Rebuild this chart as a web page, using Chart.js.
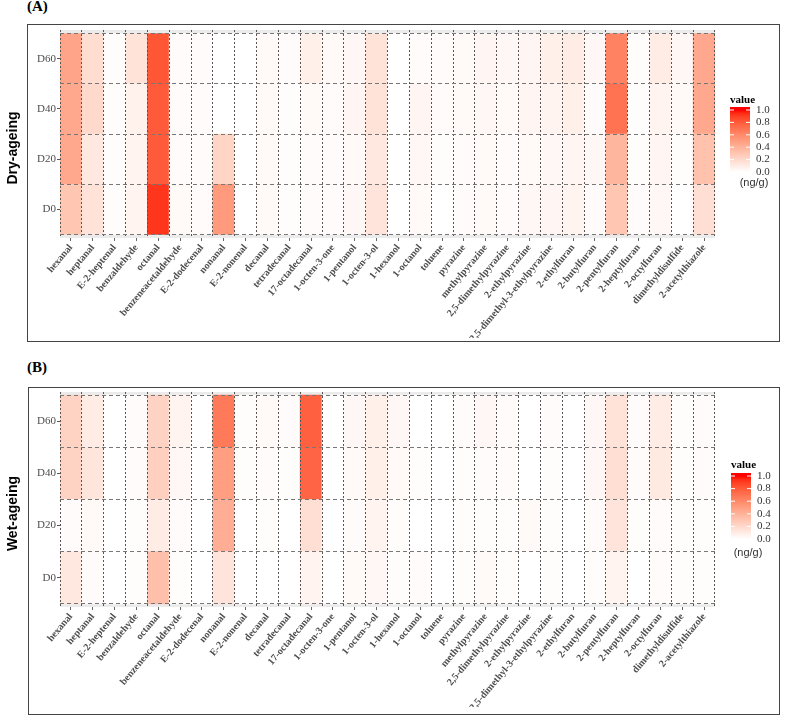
<!DOCTYPE html>
<html>
<head>
<meta charset="utf-8">
<script src="https://cdn.jsdelivr.net/npm/chart.js@4.4.0/dist/chart.umd.min.js"></script>
<style>
  body { margin: 0; background: #fff; }
  #page { position: relative; width: 785px; height: 716px; overflow: hidden; }
  .frame { position: absolute; border: 1.5px solid #444; box-sizing: border-box; }
  .tag { position: absolute; font: bold 15px "Liberation Serif", serif; color: #000; }
  canvas { position: absolute; left: 0; }
</style>
</head>
<body>
<div id="page">
  <div class="tag" style="left:27px; top:-2px;">(A)</div>
  <div class="frame" style="left:27px; top:24px; width:753px; height:318px;"></div>
  <div class="tag" style="left:27px; top:359px;">(B)</div>
  <div class="frame" style="left:28px; top:387px; width:752px; height:328px;"></div>
  <canvas id="dryChart" width="785" height="345" style="top:0px;"></canvas>
  <canvas id="wetChart" width="785" height="356" style="top:360px;"></canvas>
</div>
<script>
var compounds = ["hexanal", "heptanal", "E-2-heptenal", "benzaldehyde", "octanal",
  "benzeneacetaldehyde", "E-2-dodecenal", "nonanal", "E-2-nonenal", "decanal",
  "tetradecanal", "17-octadecanal", "1-octen-3-one", "1-pentanol", "1-octen-3-ol",
  "1-hexanol", "1-octanol", "toluene", "pyrazine", "methylpyrazine",
  "2,5-dimethylpyrazine", "2-ethylpyrazine", "2,5-dimethyl-3-ethylpyrazine", "2-ethylfuran", "2-butylfuran",
  "2-pentylfuran", "2-heptylfuran", "2-octylfuran", "dimethyldisulfide", "2-acetylthiazole"];
var days = ["D0", "D20", "D40", "D60"];
var legendTicks = [0, 0.2, 0.4, 0.6, 0.8, 1.0];

// dry-ageing, scaled value per compound
var dryD0  = [0.30, 0.15, 0.01, 0.06, 0.92, 0.03, 0.02, 0.52, 0.00, 0.03, 0.01, 0.02, 0.02, 0.04, 0.14,
              0.00, 0.03, 0.00, 0.02, 0.03, 0.02, 0.04, 0.05, 0.06, 0.02, 0.30, 0.02, 0.04, 0.00, 0.17];
var dryD20 = [0.45, 0.12, 0.01, 0.06, 0.80, 0.02, 0.02, 0.22, 0.00, 0.03, 0.01, 0.02, 0.02, 0.03, 0.12,
              0.00, 0.04, 0.01, 0.02, 0.03, 0.02, 0.03, 0.04, 0.05, 0.04, 0.38, 0.01, 0.05, 0.01, 0.32];
var dryD40 = [0.45, 0.20, 0.01, 0.07, 0.80, 0.02, 0.02, 0.00, 0.00, 0.03, 0.01, 0.03, 0.02, 0.05, 0.15,
              0.00, 0.05, 0.02, 0.03, 0.04, 0.03, 0.05, 0.06, 0.08, 0.02, 0.70, 0.01, 0.06, 0.03, 0.45];
var dryD60 = [0.47, 0.18, 0.01, 0.15, 0.82, 0.02, 0.02, 0.00, 0.00, 0.03, 0.02, 0.08, 0.03, 0.04, 0.15,
              0.00, 0.02, 0.02, 0.03, 0.05, 0.04, 0.05, 0.08, 0.10, 0.04, 0.63, 0.01, 0.10, 0.04, 0.45];

// wet-ageing
var wetD0  = [0.12, 0.02, 0.00, 0.01, 0.33, 0.01, 0.00, 0.14, 0.00, 0.00, 0.00, 0.06, 0.00, 0.03, 0.04,
              0.01, 0.02, 0.00, 0.01, 0.03, 0.01, 0.00, 0.01, 0.00, 0.01, 0.06, 0.00, 0.02, 0.01, 0.01];
var wetD20 = [0.02, 0.03, 0.00, 0.01, 0.10, 0.02, 0.00, 0.42, 0.00, 0.01, 0.00, 0.17, 0.00, 0.02, 0.06,
              0.01, 0.00, 0.00, 0.01, 0.01, 0.01, 0.03, 0.01, 0.00, 0.02, 0.14, 0.01, 0.02, 0.01, 0.01];
var wetD40 = [0.23, 0.13, 0.00, 0.02, 0.25, 0.04, 0.00, 0.50, 0.01, 0.02, 0.01, 0.76, 0.00, 0.03, 0.08,
              0.03, 0.01, 0.00, 0.01, 0.02, 0.02, 0.00, 0.01, 0.00, 0.04, 0.17, 0.02, 0.11, 0.01, 0.02];
var wetD60 = [0.23, 0.10, 0.00, 0.02, 0.23, 0.06, 0.00, 0.67, 0.01, 0.03, 0.02, 0.78, 0.00, 0.04, 0.08,
              0.04, 0.00, 0.00, 0.02, 0.04, 0.02, 0.00, 0.02, 0.00, 0.04, 0.15, 0.02, 0.10, 0.01, 0.02];

// white -> red, blended in Lab like ggplot does
function heatColor(v) {
  var L = 100 + (53.24 - 100) * v, A = 80.09 * v, B = 67.2 * v;
  var fy = (L + 16) / 116, fx = fy + A / 500, fz = fy - B / 200;
  function finv(t) { return t * t * t > 0.008856 ? t * t * t : (t - 16 / 116) / 7.787; }
  var X = 0.95047 * finv(fx), Y = finv(fy), Z = 1.08883 * finv(fz);
  var rgb = [3.2406 * X - 1.5372 * Y - 0.4986 * Z,
             -0.9689 * X + 1.8758 * Y + 0.0415 * Z,
             0.0557 * X - 0.2040 * Y + 1.0570 * Z];
  rgb = rgb.map(function (c) {
    c = c <= 0.0031308 ? 12.92 * c : 1.055 * Math.pow(c, 1 / 2.4) - 0.055;
    return Math.round(Math.min(1, Math.max(0, c)) * 255);
  });
  return "rgb(" + rgb.join(",") + ")";
}

function heatmap(id, title, rows, lay) {
  var ctx = document.getElementById(id).getContext("2d");

  var extras = {
    id: "extras",
    beforeDatasetsDraw: function (chart) {
      var c = chart.ctx, a = chart.chartArea, y = chart.scales.y;
      c.save();
      c.fillStyle = "#EBEBEB";
      c.fillRect(a.left, a.top, a.right - a.left, a.bottom - a.top);
      c.fillStyle = "#fff";
      c.fillRect(a.left, y.getPixelForValue(4), a.right - a.left, y.getPixelForValue(0) - y.getPixelForValue(4));
      c.restore();
    },
    afterDraw: function (chart) {
      var c = chart.ctx, a = chart.chartArea;
      c.save();
      // axis title
      c.translate(13, (a.top + a.bottom) / 2 + 14);
      c.rotate(-Math.PI / 2);
      c.font = "bold 14px 'Liberation Sans', Arial, sans-serif";
      c.fillStyle = "#000";
      c.textAlign = "center";
      c.textBaseline = "middle";
      c.fillText(title, 0, 0);
      c.restore();

      // colour bar legend
      c.save();
      c.font = "bold 11px 'Liberation Serif', serif";
      c.fillStyle = "#000";
      c.textBaseline = "middle";
      c.fillText("value", lay.lx, lay.valueY);
      var g = c.createLinearGradient(0, lay.y1, 0, lay.y0);
      for (var k = 0; k <= 20; k++) g.addColorStop(k / 20, heatColor(1 - k / 20));
      c.fillStyle = g;
      c.fillRect(lay.lx, lay.barTop, 20, lay.y0 - lay.barTop);
      c.font = "11px 'Liberation Serif', serif";
      legendTicks.forEach(function (v) {
        var ty = lay.y0 - v * (lay.y0 - lay.y1);
        c.strokeStyle = "#fff";
        c.lineWidth = 1;
        c.beginPath();
        c.moveTo(lay.lx, ty); c.lineTo(lay.lx + 4, ty);
        c.moveTo(lay.lx + 16, ty); c.lineTo(lay.lx + 20, ty);
        c.stroke();
        c.fillStyle = "#333";
        c.fillText(v.toFixed(1), lay.lx + 26, ty);
      });
      c.font = "11px 'Liberation Sans', Arial, sans-serif";
      c.textAlign = "center";
      c.fillText("(ng/g)", lay.unitX, lay.unitY);
      c.restore();
    }
  };

  return new Chart(ctx, {
    type: "bar",
    data: {
      labels: compounds,
      datasets: rows.map(function (vals, i) {
        return {
          label: days[i],
          data: vals.map(function () { return 1; }),
          backgroundColor: vals.map(heatColor),
          borderWidth: 0,
          barPercentage: 1,
          categoryPercentage: 1
        };
      })
    },
    options: {
      responsive: false,
      animation: false,
      events: [],
      layout: { padding: { left: 30, right: 70, top: lay.top, bottom: lay.bottom } },
      plugins: { legend: { display: false }, tooltip: { enabled: false } },
      scales: {
        x: {
          stacked: true,
          offset: true,
          grid: { offset: true, color: "#555", lineWidth: 1, drawTicks: false, z: 1 },
          border: { display: false, dash: [2, 2] },
          ticks: {
            autoSkip: false, minRotation: 50, maxRotation: 50, padding: 1,
            color: "#4d4d4d", font: { family: "'Liberation Serif', serif", size: 10, weight: "bold" }
          },
          afterFit: function (s) { s.height = 97; }
        },
        xt: {
          type: "category",
          position: "bottom",
          weight: -1,
          offset: true,
          grid: { offset: false, drawOnChartArea: false, tickLength: 3, color: "#666" },
          border: { display: false },
          ticks: { display: false },
          afterFit: function (s) { s.height = 3; }
        },
        y: {
          stacked: true,
          min: -lay.pad, max: 4 + lay.pad,
          afterBuildTicks: function (s) { s.ticks = [0.5, 1.5, 2.5, 3.5].map(function (v) { return { value: v }; }); },
          grid: { drawOnChartArea: false, tickLength: 3, color: "#555" },
          border: { display: false },
          ticks: {
            padding: 1, color: "#4d4d4d",
            font: { family: "'Liberation Serif', serif", size: 11 },
            callback: function (v) { return days[Math.floor(v)]; }
          },
          afterFit: function (s) { s.width = 30; }
        },
        yg: {
          position: "left",
          min: -lay.pad, max: 4 + lay.pad,
          afterBuildTicks: function (s) { s.ticks = [0, 1, 2, 3, 4].map(function (v) { return { value: v }; }); },
          grid: { color: "#777", lineWidth: 1, drawTicks: false, z: 1 },
          border: { display: false, dash: [4, 3] },
          ticks: { display: false },
          afterFit: function (s) { s.width = 0; }
        }
      }
    },
    plugins: [extras]
  });
}

heatmap("dryChart", "Dry-ageing", [dryD0, dryD20, dryD40, dryD60],
  { top: 30, bottom: 7, pad: 0.07, lx: 730, valueY: 100, barTop: 107, y1: 110, y0: 172, unitX: 754, unitY: 183 });
heatmap("wetChart", "Wet-ageing", [wetD0, wetD20, wetD40, wetD60],
  { top: 32, bottom: 9, pad: 0.06, lx: 731, valueY: 105, barTop: 113, y1: 116, y0: 179, unitX: 748, unitY: 193 });
</script>
</body>
</html>
